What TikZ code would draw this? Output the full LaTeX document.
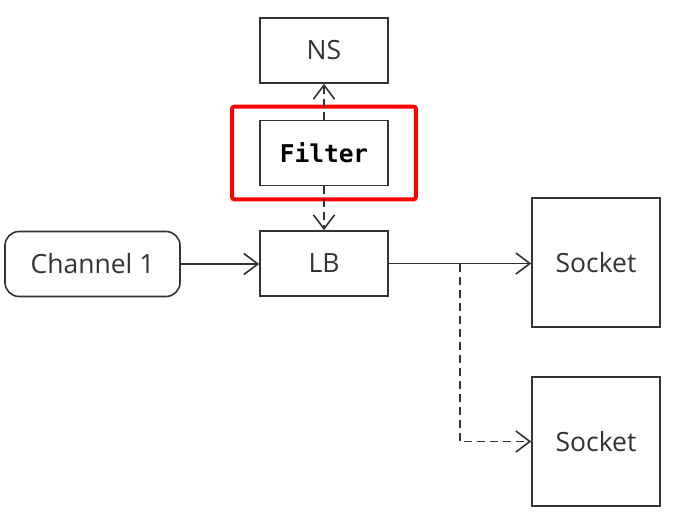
\documentclass[tikz,border=0pt]{standalone}
\usepackage{fontspec}
\setmainfont{Open Sans}
\newfontfamily\monofont{DejaVu Sans Mono}
\usetikzlibrary{arrows.meta}
\usetikzlibrary{calc}
\usetikzlibrary{fit}

\begin{document}
\begin{tikzpicture}[x=1pt, y=-1pt,
        box/.style={draw=black!80, line width=1.6pt, minimum width=128pt, minimum height=65pt,
            font=\fontsize{26.5}{30}\selectfont, text=black!80, inner sep=0pt},
        flow/.style={draw=black!80, line width=1.6pt, -{Straight Barb[length=14pt, width=21pt, line width=1.6pt]}},
        dashflow/.style={flow, dash pattern=on 8pt off 5pt}]
        \useasboundingbox (0,0) rectangle (682,524);

        % Boxes in the middle column
        \node[box] (ns) at (324,50.5) {NS};
        \node[box, font=\monofont\bfseries\fontsize{24.5}{28}\selectfont, text=black] (filter) at (324,153) {Filter};
        \node[box] (lb) at (324,263.5) {LB};

        % Channel on the left
        \node[box, rounded corners=14pt, minimum width=175pt] (chan) at (92.5,264) {Channel 1};

        % Sockets on the right
        \node[box, minimum height=129pt] (sockA) at (596,262.5) {Socket};
        \node[box, minimum height=129pt] (sockB) at (596,441.5) {Socket};

        % Highlight round the filter
        \node[draw=red, line width=4pt, rounded corners=2pt, inner xsep=27pt, inner ysep=13pt, fit=(filter)] (mark) {};

        % Connectors
        \draw[dashflow] (filter.north) -- (ns.south);
        \draw[dashflow] (filter.south) -- (lb.north);
        \draw[flow] (chan.east) -- (chan.east -| lb.west);
        \draw[flow] (lb.east) -- (lb.east -| sockA.west);
        \coordinate (split) at ($(lb.east)!0.5!(lb.east -| sockA.west)$);
        \draw[dashflow] (split) |- (sockB.west);
\end{tikzpicture}
\end{document}
